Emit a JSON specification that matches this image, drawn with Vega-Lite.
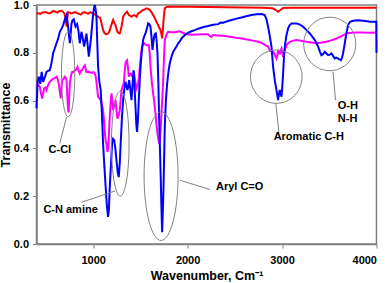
{
  "$schema": "https://vega.github.io/schema/vega-lite/v6.json",
  "width": 340,
  "height": 239,
  "autosize": {"type": "none"},
  "padding": {"left": 36.5, "top": 5, "right": 13.5, "bottom": 39},
  "config": {
    "font": "Liberation Sans",
    "view": {"stroke": "#808080", "strokeWidth": 1.5},
    "axis": {
      "grid": false,
      "domainColor": "#808080",
      "domainWidth": 1.5,
      "tickColor": "#808080",
      "tickSize": 4,
      "labelFont": "Liberation Sans",
      "labelFontWeight": "bold",
      "labelFontSize": 11,
      "labelColor": "#000000",
      "titleFont": "Liberation Sans",
      "titleFontWeight": "bold",
      "titleFontSize": 12.5,
      "titleColor": "#000000"
    }
  },
  "datasets": {
    "red": [
      {"wn":400,"T":0.965},{"wn":420,"T":0.965},{"wn":440,"T":0.963},{"wn":460,"T":0.968},{"wn":480,"T":0.97},{"wn":500,"T":0.97},{"wn":520,"T":0.966},{"wn":540,"T":0.965},{"wn":560,"T":0.97},{"wn":580,"T":0.975},{"wn":600,"T":0.972},{"wn":620,"T":0.968},{"wn":640,"T":0.974},{"wn":660,"T":0.976},{"wn":680,"T":0.972},{"wn":695,"T":0.965},{"wn":705,"T":0.95},{"wn":712,"T":0.93},{"wn":718,"T":0.91},{"wn":724,"T":0.94},{"wn":730,"T":0.96},{"wn":735,"T":0.97},{"wn":750,"T":0.968},{"wn":770,"T":0.965},{"wn":790,"T":0.968},{"wn":810,"T":0.97},{"wn":830,"T":0.966},{"wn":850,"T":0.963},{"wn":870,"T":0.96},{"wn":890,"T":0.968},{"wn":910,"T":0.97},{"wn":930,"T":0.966},{"wn":950,"T":0.964},{"wn":970,"T":0.97},{"wn":990,"T":0.966},{"wn":1010,"T":0.962},{"wn":1030,"T":0.958},{"wn":1052,"T":0.951},{"wn":1075,"T":0.945},{"wn":1090,"T":0.92},{"wn":1105,"T":0.895},{"wn":1122,"T":0.881},{"wn":1140,"T":0.878},{"wn":1158,"T":0.881},{"wn":1172,"T":0.89},{"wn":1187,"T":0.909},{"wn":1200,"T":0.925},{"wn":1211,"T":0.937},{"wn":1224,"T":0.925},{"wn":1236,"T":0.916},{"wn":1247,"T":0.9},{"wn":1257,"T":0.888},{"wn":1270,"T":0.882},{"wn":1282,"T":0.881},{"wn":1292,"T":0.895},{"wn":1300,"T":0.909},{"wn":1309,"T":0.93},{"wn":1317,"T":0.951},{"wn":1330,"T":0.96},{"wn":1342,"T":0.965},{"wn":1359,"T":0.972},{"wn":1368,"T":0.965},{"wn":1377,"T":0.958},{"wn":1392,"T":0.955},{"wn":1406,"T":0.951},{"wn":1420,"T":0.955},{"wn":1433,"T":0.958},{"wn":1446,"T":0.955},{"wn":1459,"T":0.951},{"wn":1468,"T":0.958},{"wn":1476,"T":0.965},{"wn":1490,"T":0.968},{"wn":1504,"T":0.972},{"wn":1516,"T":0.976},{"wn":1529,"T":0.979},{"wn":1547,"T":0.982},{"wn":1565,"T":0.986},{"wn":1582,"T":0.984},{"wn":1600,"T":0.979},{"wn":1617,"T":0.97},{"wn":1635,"T":0.958},{"wn":1652,"T":0.945},{"wn":1670,"T":0.93},{"wn":1683,"T":0.92},{"wn":1695,"T":0.909},{"wn":1705,"T":0.9},{"wn":1713,"T":0.895},{"wn":1722,"T":0.88},{"wn":1730,"T":0.86},{"wn":1737,"T":0.89},{"wn":1745,"T":0.937},{"wn":1752,"T":0.965},{"wn":1758,"T":0.986},{"wn":1775,"T":0.991},{"wn":1793,"T":0.993},{"wn":1900,"T":0.993},{"wn":2000,"T":0.993},{"wn":2200,"T":0.992},{"wn":2400,"T":0.991},{"wn":2600,"T":0.99},{"wn":2800,"T":0.988},{"wn":2900,"T":0.986},{"wn":2930,"T":0.98},{"wn":2958,"T":0.972},{"wn":2985,"T":0.98},{"wn":3010,"T":0.987},{"wn":3100,"T":0.988},{"wn":3300,"T":0.988},{"wn":3500,"T":0.988},{"wn":3700,"T":0.988},{"wn":3900,"T":0.988},{"wn":4000,"T":0.988}
    ],
    "magenta": [
      {"wn":400,"T":0.672},{"wn":418,"T":0.665},{"wn":435,"T":0.658},{"wn":448,"T":0.63},{"wn":460,"T":0.609},{"wn":470,"T":0.63},{"wn":481,"T":0.65},{"wn":495,"T":0.655},{"wn":506,"T":0.644},{"wn":518,"T":0.66},{"wn":530,"T":0.672},{"wn":545,"T":0.68},{"wn":559,"T":0.686},{"wn":572,"T":0.69},{"wn":586,"T":0.693},{"wn":600,"T":0.695},{"wn":612,"T":0.7},{"wn":624,"T":0.69},{"wn":636,"T":0.672},{"wn":646,"T":0.64},{"wn":657,"T":0.609},{"wn":664,"T":0.65},{"wn":671,"T":0.686},{"wn":685,"T":0.69},{"wn":700,"T":0.7},{"wn":710,"T":0.695},{"wn":718,"T":0.686},{"wn":726,"T":0.62},{"wn":735,"T":0.56},{"wn":740,"T":0.55},{"wn":746,"T":0.61},{"wn":753,"T":0.672},{"wn":765,"T":0.705},{"wn":777,"T":0.72},{"wn":790,"T":0.72},{"wn":806,"T":0.727},{"wn":820,"T":0.73},{"wn":834,"T":0.741},{"wn":846,"T":0.725},{"wn":858,"T":0.713},{"wn":870,"T":0.725},{"wn":883,"T":0.727},{"wn":897,"T":0.74},{"wn":911,"T":0.748},{"wn":920,"T":0.735},{"wn":929,"T":0.72},{"wn":946,"T":0.72},{"wn":964,"T":0.72},{"wn":982,"T":0.715},{"wn":1000,"T":0.72},{"wn":1015,"T":0.715},{"wn":1028,"T":0.7},{"wn":1040,"T":0.66},{"wn":1052,"T":0.616},{"wn":1066,"T":0.61},{"wn":1080,"T":0.602},{"wn":1092,"T":0.585},{"wn":1105,"T":0.56},{"wn":1114,"T":0.52},{"wn":1122,"T":0.476},{"wn":1133,"T":0.43},{"wn":1141,"T":0.42},{"wn":1151,"T":0.385},{"wn":1160,"T":0.4},{"wn":1168,"T":0.47},{"wn":1176,"T":0.532},{"wn":1186,"T":0.6},{"wn":1194,"T":0.63},{"wn":1202,"T":0.6},{"wn":1211,"T":0.56},{"wn":1222,"T":0.58},{"wn":1236,"T":0.602},{"wn":1247,"T":0.56},{"wn":1257,"T":0.524},{"wn":1270,"T":0.54},{"wn":1282,"T":0.56},{"wn":1292,"T":0.61},{"wn":1300,"T":0.644},{"wn":1312,"T":0.66},{"wn":1324,"T":0.672},{"wn":1334,"T":0.72},{"wn":1342,"T":0.755},{"wn":1350,"T":0.765},{"wn":1359,"T":0.769},{"wn":1368,"T":0.74},{"wn":1377,"T":0.7},{"wn":1388,"T":0.71},{"wn":1398,"T":0.713},{"wn":1407,"T":0.705},{"wn":1416,"T":0.7},{"wn":1425,"T":0.705},{"wn":1433,"T":0.713},{"wn":1446,"T":0.68},{"wn":1459,"T":0.65},{"wn":1468,"T":0.66},{"wn":1476,"T":0.672},{"wn":1485,"T":0.7},{"wn":1494,"T":0.741},{"wn":1506,"T":0.79},{"wn":1518,"T":0.826},{"wn":1528,"T":0.835},{"wn":1539,"T":0.84},{"wn":1552,"T":0.835},{"wn":1565,"T":0.833},{"wn":1578,"T":0.832},{"wn":1589,"T":0.833},{"wn":1598,"T":0.8},{"wn":1607,"T":0.741},{"wn":1620,"T":0.68},{"wn":1635,"T":0.63},{"wn":1648,"T":0.59},{"wn":1660,"T":0.546},{"wn":1670,"T":0.5},{"wn":1681,"T":0.462},{"wn":1690,"T":0.44},{"wn":1698,"T":0.42},{"wn":1706,"T":0.43},{"wn":1716,"T":0.49},{"wn":1728,"T":0.58},{"wn":1740,"T":0.67},{"wn":1750,"T":0.78},{"wn":1758,"T":0.853},{"wn":1775,"T":0.875},{"wn":1793,"T":0.888},{"wn":1830,"T":0.886},{"wn":1864,"T":0.886},{"wn":1917,"T":0.89},{"wn":1960,"T":0.882},{"wn":2000,"T":0.878},{"wn":2041,"T":0.876},{"wn":2100,"T":0.877},{"wn":2150,"T":0.878},{"wn":2217,"T":0.878},{"wn":2235,"T":0.87},{"wn":2252,"T":0.866},{"wn":2270,"T":0.874},{"wn":2330,"T":0.872},{"wn":2394,"T":0.87},{"wn":2450,"T":0.867},{"wn":2510,"T":0.863},{"wn":2571,"T":0.86},{"wn":2630,"T":0.856},{"wn":2690,"T":0.851},{"wn":2747,"T":0.846},{"wn":2790,"T":0.84},{"wn":2830,"T":0.83},{"wn":2852,"T":0.826},{"wn":2870,"T":0.81},{"wn":2895,"T":0.805},{"wn":2910,"T":0.803},{"wn":2925,"T":0.79},{"wn":2941,"T":0.776},{"wn":2950,"T":0.79},{"wn":2958,"T":0.811},{"wn":2967,"T":0.8},{"wn":2976,"T":0.797},{"wn":2985,"T":0.81},{"wn":2994,"T":0.818},{"wn":3003,"T":0.8},{"wn":3011,"T":0.783},{"wn":3020,"T":0.8},{"wn":3029,"T":0.811},{"wn":3047,"T":0.832},{"wn":3064,"T":0.84},{"wn":3082,"T":0.846},{"wn":3110,"T":0.85},{"wn":3153,"T":0.853},{"wn":3200,"T":0.85},{"wn":3259,"T":0.846},{"wn":3310,"T":0.843},{"wn":3365,"T":0.84},{"wn":3420,"T":0.843},{"wn":3470,"T":0.846},{"wn":3520,"T":0.852},{"wn":3576,"T":0.86},{"wn":3630,"T":0.87},{"wn":3682,"T":0.881},{"wn":3730,"T":0.884},{"wn":3788,"T":0.885},{"wn":3850,"T":0.885},{"wn":3920,"T":0.884},{"wn":4000,"T":0.885}
    ],
    "blue": [
      {"wn":400,"T":0.568},{"wn":412,"T":0.68},{"wn":425,"T":0.7},{"wn":440,"T":0.67},{"wn":455,"T":0.72},{"wn":470,"T":0.678},{"wn":490,"T":0.7},{"wn":506,"T":0.72},{"wn":525,"T":0.725},{"wn":541,"T":0.727},{"wn":560,"T":0.76},{"wn":576,"T":0.798},{"wn":595,"T":0.82},{"wn":612,"T":0.84},{"wn":630,"T":0.86},{"wn":647,"T":0.888},{"wn":665,"T":0.9},{"wn":682,"T":0.916},{"wn":700,"T":0.94},{"wn":718,"T":0.958},{"wn":728,"T":0.93},{"wn":735,"T":0.909},{"wn":745,"T":0.87},{"wn":753,"T":0.84},{"wn":762,"T":0.88},{"wn":770,"T":0.92},{"wn":780,"T":0.935},{"wn":795,"T":0.94},{"wn":813,"T":0.91},{"wn":830,"T":0.92},{"wn":845,"T":0.89},{"wn":858,"T":0.84},{"wn":867,"T":0.86},{"wn":876,"T":0.888},{"wn":890,"T":0.86},{"wn":904,"T":0.826},{"wn":915,"T":0.85},{"wn":929,"T":0.88},{"wn":940,"T":0.84},{"wn":954,"T":0.784},{"wn":965,"T":0.82},{"wn":975,"T":0.854},{"wn":988,"T":0.91},{"wn":1000,"T":0.965},{"wn":1010,"T":0.99},{"wn":1017,"T":1.0},{"wn":1025,"T":0.985},{"wn":1035,"T":0.95},{"wn":1043,"T":0.85},{"wn":1052,"T":0.742},{"wn":1065,"T":0.68},{"wn":1080,"T":0.644},{"wn":1092,"T":0.55},{"wn":1105,"T":0.42},{"wn":1118,"T":0.33},{"wn":1130,"T":0.253},{"wn":1145,"T":0.16},{"wn":1158,"T":0.113},{"wn":1166,"T":0.14},{"wn":1176,"T":0.24},{"wn":1188,"T":0.33},{"wn":1200,"T":0.42},{"wn":1210,"T":0.44},{"wn":1222,"T":0.435},{"wn":1235,"T":0.4},{"wn":1247,"T":0.35},{"wn":1260,"T":0.3},{"wn":1271,"T":0.28},{"wn":1282,"T":0.34},{"wn":1293,"T":0.435},{"wn":1305,"T":0.53},{"wn":1317,"T":0.602},{"wn":1330,"T":0.65},{"wn":1342,"T":0.679},{"wn":1353,"T":0.66},{"wn":1363,"T":0.644},{"wn":1372,"T":0.66},{"wn":1381,"T":0.686},{"wn":1393,"T":0.65},{"wn":1406,"T":0.602},{"wn":1416,"T":0.66},{"wn":1427,"T":0.727},{"wn":1438,"T":0.66},{"wn":1448,"T":0.574},{"wn":1457,"T":0.5},{"wn":1465,"T":0.469},{"wn":1474,"T":0.52},{"wn":1483,"T":0.602},{"wn":1494,"T":0.69},{"wn":1504,"T":0.755},{"wn":1516,"T":0.81},{"wn":1529,"T":0.853},{"wn":1541,"T":0.87},{"wn":1554,"T":0.881},{"wn":1568,"T":0.9},{"wn":1582,"T":0.923},{"wn":1595,"T":0.92},{"wn":1607,"T":0.909},{"wn":1617,"T":0.87},{"wn":1628,"T":0.812},{"wn":1636,"T":0.84},{"wn":1645,"T":0.867},{"wn":1655,"T":0.88},{"wn":1663,"T":0.881},{"wn":1672,"T":0.85},{"wn":1681,"T":0.797},{"wn":1690,"T":0.68},{"wn":1698,"T":0.532},{"wn":1707,"T":0.4},{"wn":1716,"T":0.267},{"wn":1723,"T":0.15},{"wn":1730,"T":0.049},{"wn":1737,"T":0.13},{"wn":1745,"T":0.24},{"wn":1752,"T":0.37},{"wn":1758,"T":0.49},{"wn":1770,"T":0.6},{"wn":1783,"T":0.67},{"wn":1797,"T":0.72},{"wn":1811,"T":0.755},{"wn":1830,"T":0.785},{"wn":1847,"T":0.804},{"wn":1864,"T":0.815},{"wn":1882,"T":0.826},{"wn":1900,"T":0.84},{"wn":1917,"T":0.848},{"wn":1940,"T":0.862},{"wn":1970,"T":0.874},{"wn":2000,"T":0.882},{"wn":2040,"T":0.89},{"wn":2076,"T":0.895},{"wn":2120,"T":0.902},{"wn":2170,"T":0.908},{"wn":2217,"T":0.912},{"wn":2270,"T":0.917},{"wn":2323,"T":0.92},{"wn":2350,"T":0.927},{"wn":2376,"T":0.926},{"wn":2420,"T":0.932},{"wn":2465,"T":0.937},{"wn":2520,"T":0.943},{"wn":2571,"T":0.948},{"wn":2620,"T":0.953},{"wn":2676,"T":0.958},{"wn":2730,"T":0.961},{"wn":2782,"T":0.962},{"wn":2817,"T":0.958},{"wn":2835,"T":0.94},{"wn":2852,"T":0.909},{"wn":2870,"T":0.87},{"wn":2888,"T":0.826},{"wn":2905,"T":0.742},{"wn":2925,"T":0.68},{"wn":2941,"T":0.644},{"wn":2958,"T":0.602},{"wn":2968,"T":0.63},{"wn":2976,"T":0.644},{"wn":2985,"T":0.63},{"wn":2994,"T":0.616},{"wn":3003,"T":0.66},{"wn":3011,"T":0.713},{"wn":3020,"T":0.78},{"wn":3029,"T":0.826},{"wn":3045,"T":0.87},{"wn":3064,"T":0.902},{"wn":3080,"T":0.915},{"wn":3100,"T":0.923},{"wn":3153,"T":0.923},{"wn":3190,"T":0.918},{"wn":3223,"T":0.909},{"wn":3260,"T":0.895},{"wn":3294,"T":0.881},{"wn":3320,"T":0.868},{"wn":3347,"T":0.853},{"wn":3365,"T":0.84},{"wn":3382,"T":0.826},{"wn":3400,"T":0.805},{"wn":3417,"T":0.79},{"wn":3435,"T":0.795},{"wn":3453,"T":0.804},{"wn":3470,"T":0.797},{"wn":3488,"T":0.79},{"wn":3505,"T":0.792},{"wn":3523,"T":0.797},{"wn":3540,"T":0.787},{"wn":3558,"T":0.776},{"wn":3576,"T":0.78},{"wn":3594,"T":0.776},{"wn":3610,"T":0.772},{"wn":3622,"T":0.769},{"wn":3635,"T":0.78},{"wn":3646,"T":0.797},{"wn":3660,"T":0.83},{"wn":3675,"T":0.867},{"wn":3688,"T":0.895},{"wn":3699,"T":0.916},{"wn":3720,"T":0.93},{"wn":3752,"T":0.934},{"wn":3800,"T":0.936},{"wn":3858,"T":0.934},{"wn":3900,"T":0.932},{"wn":3929,"T":0.93},{"wn":3982,"T":0.93},{"wn":3998,"T":0.93},{"wn":4000,"T":0.8}
    ],
    "circles": [
      {"name":"C-Cl","wn":735,"T":0.71},
      {"name":"C-N","wn":1287,"T":0.42},
      {"name":"Aryl","wn":1719,"T":0.284},
      {"name":"Arom","wn":2939,"T":0.7},
      {"name":"OH","wn":3505,"T":0.837}
    ],
    "leaders": [
      {"wn":647,"T":0.421,"wn2":718,"T2":0.532},
      {"wn":880,"T":0.175,"wn2":1234,"T2":0.222},
      {"wn":1917,"T":0.267,"wn2":2235,"T2":0.228},
      {"wn":2934,"T":0.588,"wn2":2966,"T2":0.469},
      {"wn":3540,"T":0.721,"wn2":3566,"T2":0.602}
    ],
    "labelsCenter": [
      {"text":"C-Cl","wn":647,"T":0.393},
      {"text":"C-N amine","wn":761,"T":0.144},
      {"text":"Aromatic C-H","wn":3283,"T":0.447}
    ],
    "labelsLeft": [
      {"text":"Aryl C=O","wn":2300,"T":0.238},
      {"text":"O-H","wn":3590,"T":0.577},
      {"text":"N-H","wn":3590,"T":0.525}
    ]
  },
  "encoding": {
    "x": {
      "field": "wn", "type": "quantitative",
      "scale": {"domain": [400, 4000], "nice": false, "zero": false},
      "axis": {"values": [1000, 2000, 3000, 4000], "format": "d", "title": "Wavenumber, Cm⁻¹", "labelPadding": 6, "titlePadding": 4}
    },
    "y": {
      "field": "T", "type": "quantitative",
      "scale": {"domain": [0, 1], "nice": false},
      "axis": {"values": [0, 0.2, 0.4, 0.6, 0.8, 1.0], "format": ".1f", "title": "Transmittance", "labelPadding": 4, "titlePadding": 1}
    }
  },
  "layer": [
    {"data": {"name": "red"}, "mark": {"type": "line", "color": "#ff0000", "strokeWidth": 2}},
    {"data": {"name": "magenta"}, "mark": {"type": "line", "color": "#ff00ff", "strokeWidth": 2}},
    {"data": {"name": "blue"}, "mark": {"type": "line", "color": "#0000ff", "strokeWidth": 2}},
    {"data": {"name": "circles"}, "transform": [{"filter": "datum.name === 'C-Cl'"}],
     "mark": {"type": "point", "filled": false, "opacity": 1, "strokeWidth": 1, "color": "#808080", "size": 7225,
       "shape": "M 0.157 0 C 0.157 0.5523 0.0867 1 0 1 C -0.0867 1 -0.157 0.5523 -0.157 0 C -0.157 -0.5523 -0.0867 -1 0 -1 C 0.0867 -1 0.157 -0.5523 0.157 0 Z"}},
    {"data": {"name": "circles"}, "transform": [{"filter": "datum.name === 'C-N'"}],
     "mark": {"type": "point", "filled": false, "opacity": 1, "strokeWidth": 1, "color": "#808080", "size": 11025,
       "shape": "M 0.168 0 C 0.168 0.5523 0.0928 1 0 1 C -0.0928 1 -0.168 0.5523 -0.168 0 C -0.168 -0.5523 -0.0928 -1 0 -1 C 0.0928 -1 0.168 -0.5523 0.168 0 Z"}},
    {"data": {"name": "circles"}, "transform": [{"filter": "datum.name === 'Aryl'"}],
     "mark": {"type": "point", "filled": false, "opacity": 1, "strokeWidth": 1, "color": "#808080", "size": 16560,
       "shape": "M 0.264 0 C 0.264 0.5523 0.1458 1 0 1 C -0.1458 1 -0.264 0.5523 -0.264 0 C -0.264 -0.5523 -0.1458 -1 0 -1 C 0.1458 -1 0.264 -0.5523 0.264 0 Z"}},
    {"data": {"name": "circles"}, "transform": [{"filter": "datum.name === 'Arom'"}],
     "mark": {"type": "point", "filled": false, "opacity": 1, "strokeWidth": 1, "color": "#808080", "size": 2841,
       "shape": "M 0.968 0 C 0.968 0.5523 0.5346 1 0 1 C -0.5346 1 -0.968 0.5523 -0.968 0 C -0.968 -0.5523 -0.5346 -1 0 -1 C 0.5346 -1 0.968 -0.5523 0.968 0 Z"}},
    {"data": {"name": "circles"}, "transform": [{"filter": "datum.name === 'OH'"}],
     "mark": {"type": "point", "filled": false, "opacity": 1, "strokeWidth": 1, "color": "#808080", "size": 2852,
       "shape": "M 0.974 0 C 0.974 0.5523 0.538 1 0 1 C -0.538 1 -0.974 0.5523 -0.974 0 C -0.974 -0.5523 -0.538 -1 0 -1 C 0.538 -1 0.974 -0.5523 0.974 0 Z"}},
    {"data": {"name": "leaders"}, "mark": {"type": "rule", "color": "#808080", "strokeWidth": 1},
     "encoding": {"x2": {"field": "wn2"}, "y2": {"field": "T2"}}},
    {"data": {"name": "labelsCenter"}, "mark": {"type": "text", "font": "Liberation Sans", "fontWeight": "bold", "fontSize": 11, "align": "center", "baseline": "middle", "color": "#000000"},
     "encoding": {"text": {"field": "text"}}},
    {"data": {"name": "labelsLeft"}, "mark": {"type": "text", "font": "Liberation Sans", "fontWeight": "bold", "fontSize": 11, "align": "left", "baseline": "middle", "color": "#000000"},
     "encoding": {"text": {"field": "text"}}}
  ]
}
